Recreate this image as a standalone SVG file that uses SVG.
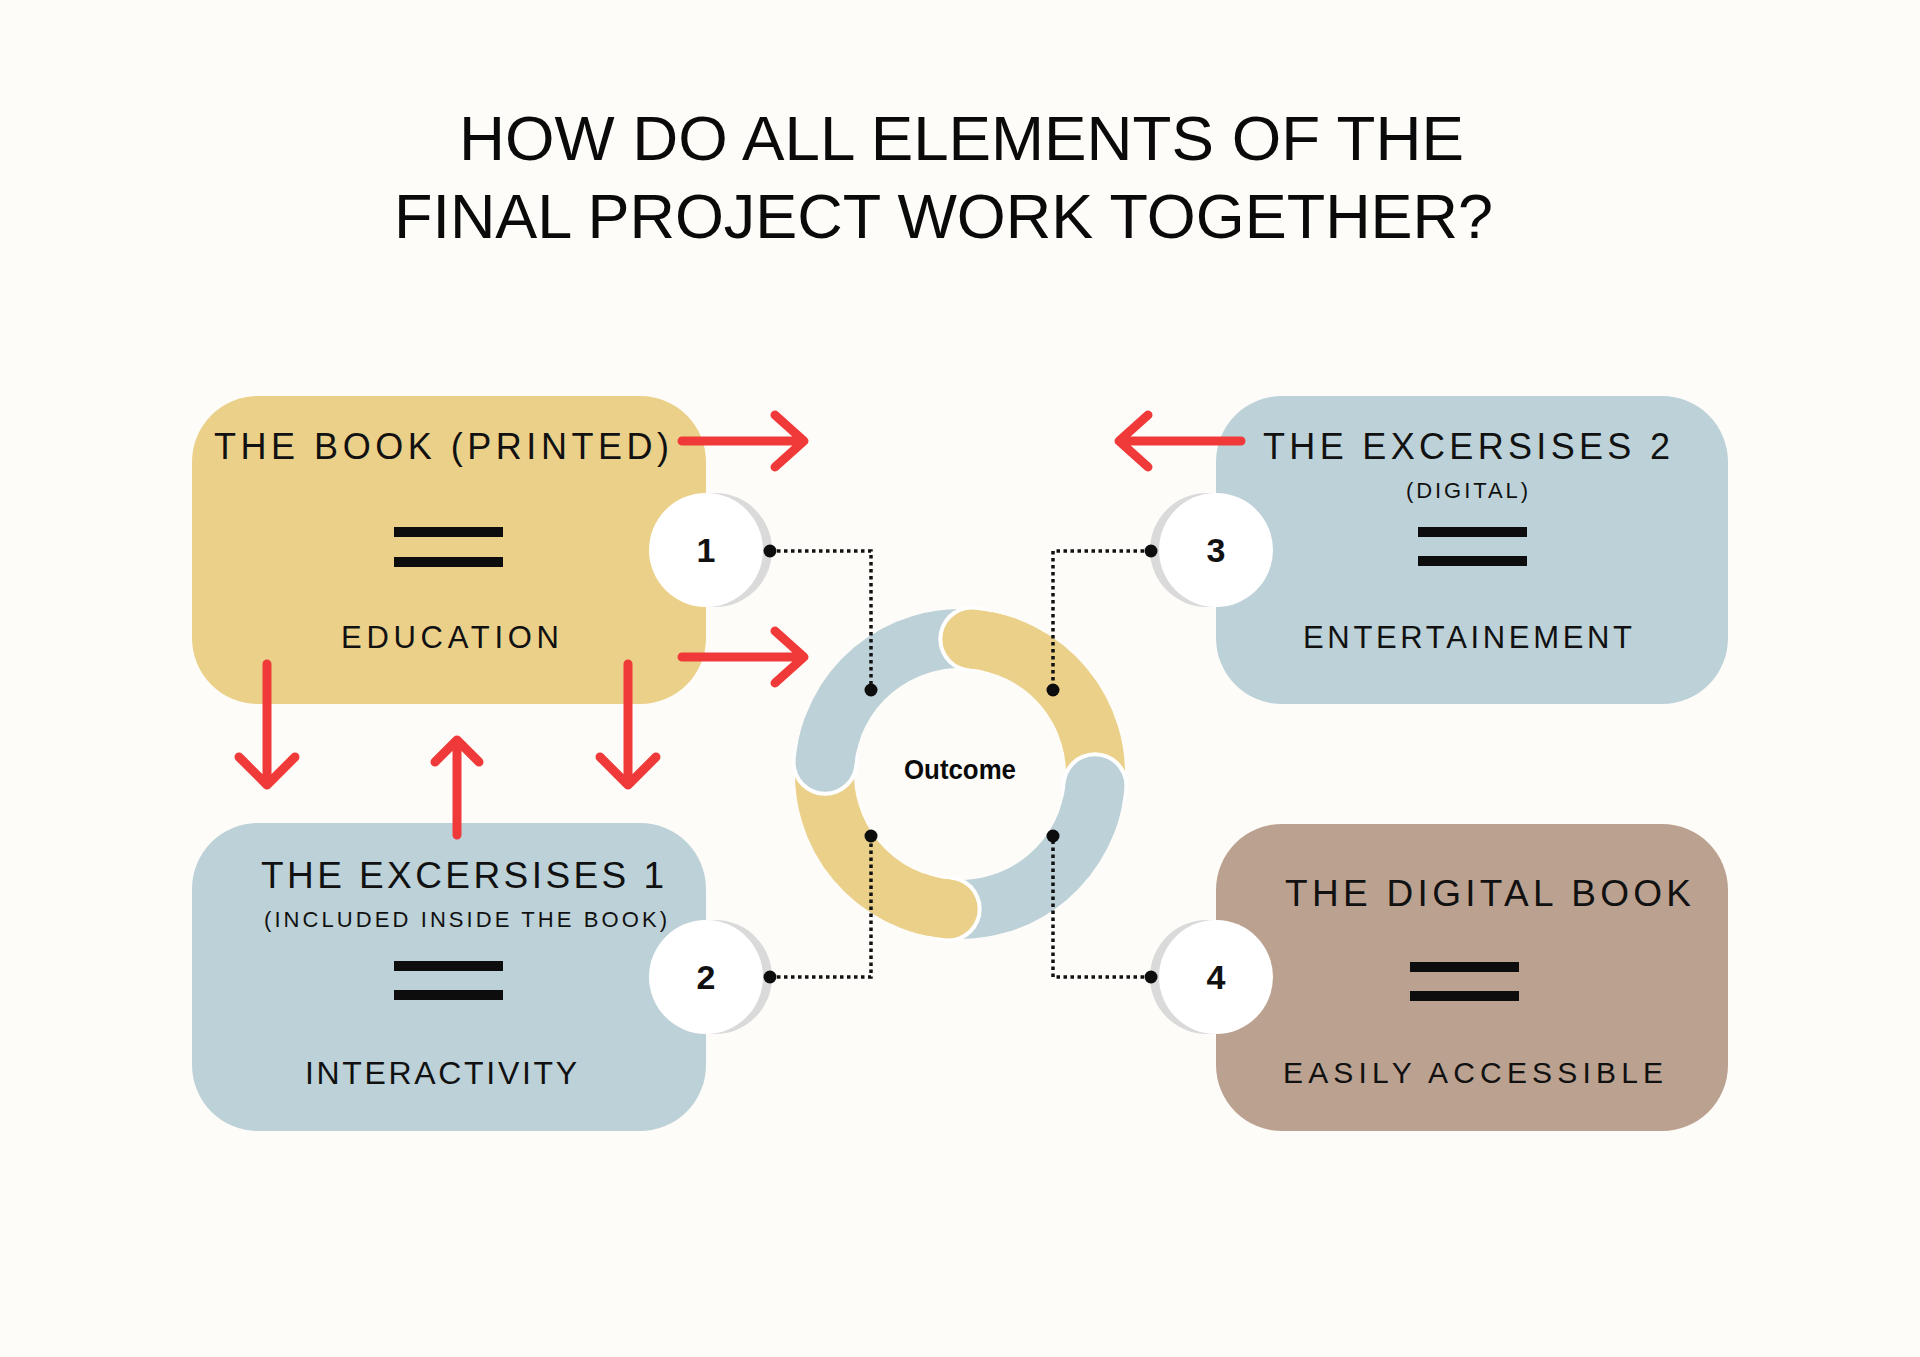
<svg xmlns="http://www.w3.org/2000/svg" width="1920" height="1357" viewBox="0 0 1920 1357">
<style>
.bg{fill:#FDFCF8}
.yel{fill:#EBD089}
.blu{fill:#BDD1D8}
.brn{fill:#BBA190}
.lbl{font-family:"Liberation Sans",Arial,sans-serif;fill:#111;}
.title{font-family:"Liberation Sans",Arial,sans-serif;fill:#0a0a0a;font-size:63px;}
.num{font-family:"Liberation Sans",Arial,sans-serif;font-weight:bold;font-size:34px;fill:#111;text-anchor:middle}
.bar{fill:#0d0d0d}
.shadow{fill:#DADADA}
.badge{fill:#FFFFFF}
.red{stroke:#F03A3A;stroke-width:9;fill:none;stroke-linecap:round;stroke-linejoin:round}
.dot{stroke:#111;stroke-width:3.5;fill:none;stroke-dasharray:3.5 3.5}
.pin{fill:#0d0d0d}
.seg{fill:none;stroke-width:59}
.gap{fill:#FFFFFF}
</style>
<rect class="bg" x="0" y="0" width="1920" height="1357"/>

<g id="title">
<text class="title" x="459" y="160" textLength="1005" lengthAdjust="spacingAndGlyphs">HOW DO ALL ELEMENTS OF THE</text>
<text class="title" x="394" y="238" textLength="1099" lengthAdjust="spacingAndGlyphs">FINAL PROJECT WORK TOGETHER?</text>
</g>

<g id="node-book">
<rect class="yel" x="192" y="396" width="514" height="308" rx="66"/>
<text class="lbl" x="214" y="459" font-size="36" textLength="455" lengthAdjust="spacing">THE BOOK (PRINTED)</text>
<rect class="bar" x="394" y="527" width="109" height="10"/>
<rect class="bar" x="394" y="557" width="109" height="10"/>
<text class="lbl" x="341" y="648" font-size="31" textLength="218" lengthAdjust="spacing">EDUCATION</text>
</g>

<g id="node-ex1">
<rect class="blu" x="192" y="823" width="514" height="308" rx="66"/>
<text class="lbl" x="261" y="888" font-size="37" textLength="403" lengthAdjust="spacing">THE EXCERSISES 1</text>
<text class="lbl" x="264" y="927" font-size="22" textLength="403" lengthAdjust="spacing">(INCLUDED INSIDE THE BOOK)</text>
<rect class="bar" x="394" y="961" width="109" height="10"/>
<rect class="bar" x="394" y="990" width="109" height="10"/>
<text class="lbl" x="305" y="1084" font-size="32" textLength="272" lengthAdjust="spacing">INTERACTIVITY</text>
</g>

<g id="node-ex2">
<rect class="blu" x="1216" y="396" width="512" height="308" rx="66"/>
<text class="lbl" x="1263" y="459" font-size="36" textLength="407" lengthAdjust="spacing">THE EXCERSISES 2</text>
<text class="lbl" x="1406" y="498" font-size="22" textLength="122" lengthAdjust="spacing">(DIGITAL)</text>
<rect class="bar" x="1418" y="527" width="109" height="10"/>
<rect class="bar" x="1418" y="556" width="109" height="10"/>
<text class="lbl" x="1303" y="648" font-size="31" textLength="329" lengthAdjust="spacing">ENTERTAINEMENT</text>
</g>

<g id="node-digital">
<rect class="brn" x="1216" y="824" width="512" height="307" rx="66"/>
<text class="lbl" x="1285" y="906" font-size="37" textLength="406" lengthAdjust="spacing">THE DIGITAL BOOK</text>
<rect class="bar" x="1410" y="962" width="109" height="10"/>
<rect class="bar" x="1410" y="991" width="109" height="10"/>
<text class="lbl" x="1283" y="1083" font-size="30" textLength="380" lengthAdjust="spacing">EASILY ACCESSIBLE</text>
</g>

<g id="outcome">
<path class="seg" stroke="#EBD089" d="M971.81,639.02 A135.5,135.5 0 0 1 1094.98,785.81"/>
<path class="seg" stroke="#BDD1D8" d="M1094.98,785.81 A135.5,135.5 0 0 1 948.19,908.98"/>
<path class="seg" stroke="#EBD089" d="M948.19,908.98 A135.5,135.5 0 0 1 825.02,762.19"/>
<path class="seg" stroke="#BDD1D8" d="M825.02,762.19 A135.5,135.5 0 0 1 971.81,639.02"/>
<circle class="gap" cx="971.81" cy="639.02" r="33.5"/>
<circle fill="#EBD089" cx="971.81" cy="639.02" r="29.5"/>
<path class="seg" stroke="#EBD089" d="M971.81,639.02 A135.5,135.5 0 0 1 1006.34,646.67"/>
<circle class="gap" cx="1094.98" cy="785.81" r="33.5"/>
<circle fill="#BDD1D8" cx="1094.98" cy="785.81" r="29.5"/>
<path class="seg" stroke="#BDD1D8" d="M1094.98,785.81 A135.5,135.5 0 0 1 1087.33,820.34"/>
<circle class="gap" cx="948.19" cy="908.98" r="33.5"/>
<circle fill="#EBD089" cx="948.19" cy="908.98" r="29.5"/>
<path class="seg" stroke="#EBD089" d="M948.19,908.98 A135.5,135.5 0 0 1 913.66,901.33"/>
<circle class="gap" cx="825.02" cy="762.19" r="33.5"/>
<circle fill="#BDD1D8" cx="825.02" cy="762.19" r="29.5"/>
<path class="seg" stroke="#BDD1D8" d="M825.02,762.19 A135.5,135.5 0 0 1 832.67,727.66"/>
<text x="960" y="779" text-anchor="middle" font-family="Liberation Sans, Arial, sans-serif" font-weight="bold" font-size="27" fill="#0a0a0a" textLength="112" lengthAdjust="spacingAndGlyphs">Outcome</text>
</g>

<g id="connectors">
<path class="dot" d="M770,551 H871 V690"/>
<path class="dot" d="M1151,551 H1053 V690"/>
<path class="dot" d="M770,977 H871 V836"/>
<path class="dot" d="M1151,977 H1053 V836"/>
<circle class="pin" cx="871" cy="690" r="6.5"/>
<circle class="pin" cx="1053" cy="690" r="6.5"/>
<circle class="pin" cx="871" cy="836" r="6.5"/>
<circle class="pin" cx="1053" cy="836" r="6.5"/>
<path class="red" d="M682,441 H802 M775,415 L804,441 L775,467"/>
<path class="red" d="M682,657 H802 M775,631 L804,657 L775,683"/>
<path class="red" d="M1241,441 H1121 M1148,415 L1119,441 L1148,467"/>
<path class="red" d="M267,664 V783 M239,757 L267,785 L295,757"/>
<path class="red" d="M628,664 V783 M600,757 L628,785 L656,757"/>
<path class="red" d="M457,835 V742 M435,762 L457,740 L479,762"/>
</g>

<g id="badge-1">
<circle class="shadow" cx="715" cy="550" r="57"/>
<circle class="badge" cx="706" cy="550" r="57"/>
<circle class="pin" cx="770" cy="551" r="6.5"/>
<text class="num" x="706" y="562">1</text>
</g>
<g id="badge-2">
<circle class="shadow" cx="715" cy="977" r="57"/>
<circle class="badge" cx="706" cy="977" r="57"/>
<circle class="pin" cx="770" cy="977" r="6.5"/>
<text class="num" x="706" y="989">2</text>
</g>
<g id="badge-3">
<circle class="shadow" cx="1207" cy="550" r="57"/>
<circle class="badge" cx="1216" cy="550" r="57"/>
<circle class="pin" cx="1151" cy="551" r="6.5"/>
<text class="num" x="1216" y="562">3</text>
</g>
<g id="badge-4">
<circle class="shadow" cx="1207" cy="977" r="57"/>
<circle class="badge" cx="1216" cy="977" r="57"/>
<circle class="pin" cx="1151" cy="977" r="6.5"/>
<text class="num" x="1216" y="989">4</text>
</g>
</svg>
